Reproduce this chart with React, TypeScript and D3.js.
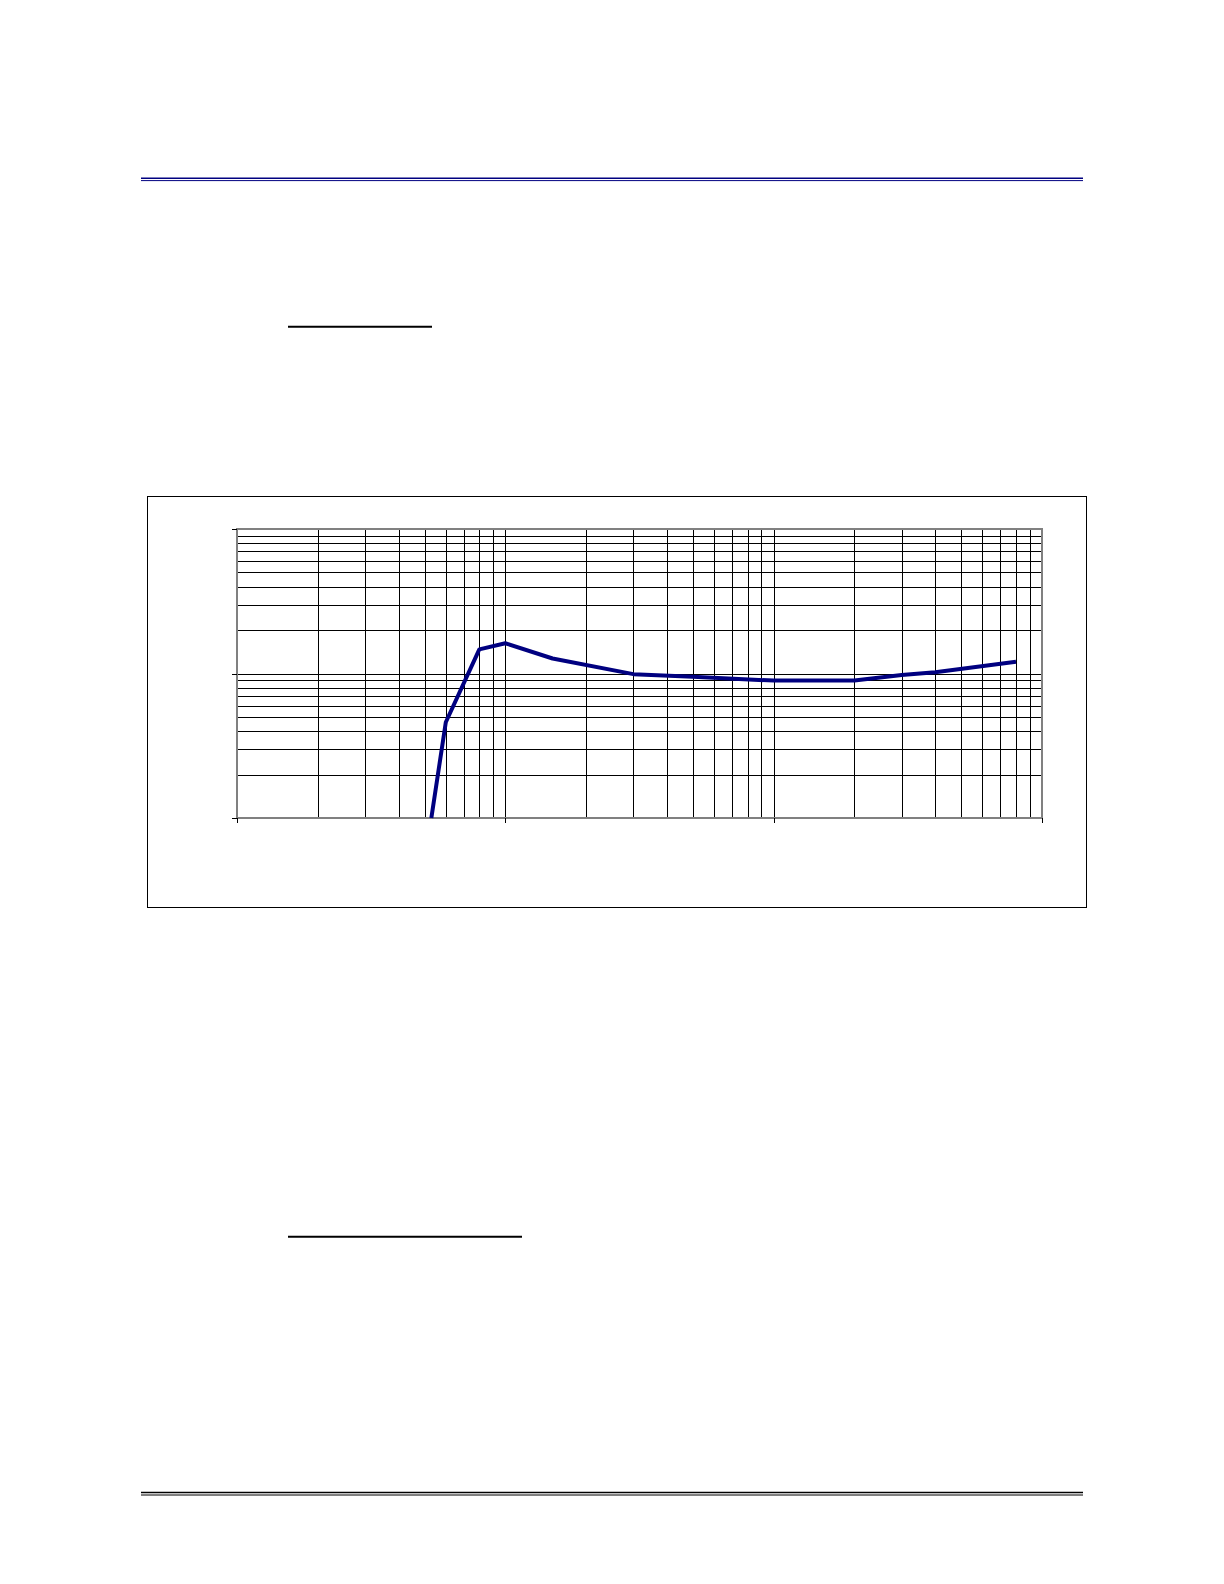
import { useEffect } from "react";
import * as d3 from "d3";

// response curve
const frequencies = [53, 60, 80, 100, 150, 300, 500, 1000, 2000, 3000, 4000, 8000];
const levels = [1, 4.6, 14.7, 16.2, 12.7, 9.9, 9.5, 8.93, 8.95, 9.75, 10.2, 12.05];
const xDomain = [10, 10000];
const yDomain = [1, 100];
const xDecades = [10, 100, 1000, 10000];
const yDecades = [1, 10, 100];

const W = 1224;
const H = 1584;
const plot = { left: 237, right: 1042, top: 529, bottom: 818 };

export default function App() {
  useEffect(() => {
    document.body.style.margin = "0";
  }, []);

  const x = d3.scaleLog().domain(xDomain).range([plot.left, plot.right]);
  const y = d3.scaleLog().domain(yDomain).range([plot.bottom, plot.top]);

  const xGrid = x.ticks().filter((t) => t > xDomain[0] && t < xDomain[1]);
  const yGrid = y.ticks().filter((t) => t > yDomain[0] && t < yDomain[1]);

  // snap hairlines to the pixel grid so they stay solid black
  const snap = (v: number) => Math.round(v) + 0.5;

  const line = d3
    .line<number>()
    .x((_, i) => x(frequencies[i]))
    .y((d) => y(d));

  return (
    <svg width={W} height={H} style={{ display: "block", background: "#fff" }}>
      {/* page header rules */}
      <line x1={141} x2={1083} y1={178.3} y2={178.3} stroke="#000080" strokeWidth={1.6} />
      <line x1={141} x2={1083} y1={180.6} y2={180.6} stroke="#000080" strokeWidth={1} />

      {/* section underlines */}
      <line x1={288} x2={432} y1={326.7} y2={326.7} stroke="#000" strokeWidth={2} />
      <line x1={288} x2={522} y1={1236.7} y2={1236.7} stroke="#000" strokeWidth={2} />

      {/* footer rules */}
      <line x1={141} x2={1083} y1={1492.5} y2={1492.5} stroke="#000" strokeWidth={1.5} />
      <line x1={141} x2={1083} y1={1495} y2={1495} stroke="#000" strokeWidth={1} />

      {/* chart frame */}
      <rect x={147.5} y={496.5} width={939} height={411} fill="none" stroke="#000" strokeWidth={1} />

      {/* grid */}
      <g shapeRendering="crispEdges">
        {xGrid.map((t) => (
          <line key={`vx${t}`} x1={snap(x(t))} x2={snap(x(t))} y1={plot.top} y2={plot.bottom} stroke="#000" strokeWidth={1} />
        ))}
        {yGrid.map((t) => (
          <line key={`hy${t}`} x1={plot.left} x2={plot.right} y1={snap(y(t))} y2={snap(y(t))} stroke="#000" strokeWidth={1} />
        ))}
      </g>

      {/* plot border */}
      <rect
        x={plot.left}
        y={plot.top}
        width={plot.right - plot.left}
        height={plot.bottom - plot.top}
        fill="none"
        stroke="#808080"
        strokeWidth={2}
        shapeRendering="crispEdges"
      />

      {/* axis ticks */}
      <g shapeRendering="crispEdges">
        {yDecades.map((t) => (
          <line key={`ty${t}`} x1={plot.left - 5} x2={plot.left} y1={snap(y(t))} y2={snap(y(t))} stroke="#000" strokeWidth={1} />
        ))}
        {xDecades.map((t) => (
          <line key={`tx${t}`} x1={snap(x(t))} x2={snap(x(t))} y1={plot.bottom} y2={plot.bottom + 5} stroke="#000" strokeWidth={1} />
        ))}
      </g>

      {/* series */}
      <path d={line(levels) ?? ""} fill="none" stroke="#000080" strokeWidth={4} strokeLinejoin="round" />
    </svg>
  );
}
